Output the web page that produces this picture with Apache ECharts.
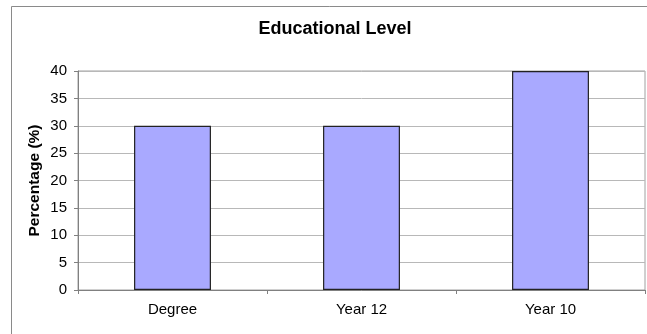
<!DOCTYPE html>
<html>
<head>
<meta charset="utf-8">
<script src="https://cdn.jsdelivr.net/npm/echarts@6/dist/echarts.min.js"></script>
<style>
  html, body { margin: 0; padding: 0; background: #fff; }
  #chart { width: 647px; height: 334px; }
</style>
</head>
<body>
<div id="chart"></div>
<script>
// Education level shares
const categories = ['Degree', 'Year 12', 'Year 10'];
const percentages = [30, 30, 40];
const yTicks = { min: 0, max: 40, interval: 5 };

const chart = echarts.init(document.getElementById('chart'), null, { renderer: 'canvas' });
const FONT = '"Liberation Sans", Arial, sans-serif';

chart.setOption({
  animation: false,
  backgroundColor: '#fff',
  title: {
    text: 'Educational Level',
    left: 330,
    textAlign: 'center',
    top: 15,
    textStyle: { fontFamily: FONT, fontSize: 18, fontWeight: 'bold', color: '#000' }
  },
  graphic: [{
    type: 'rect',
    shape: { x: 11.5, y: 6.5, width: 700, height: 400 },
    style: { fill: 'none', stroke: '#8a8a8a', lineWidth: 1 },
    silent: true
  }],
  grid: {
    left: 78, right: 2, top: 71, bottom: 44,
    show: true, borderColor: '#a0a0a0', borderWidth: 1
  },
  xAxis: {
    type: 'category',
    data: categories,
    axisLine: { lineStyle: { color: '#808080', width: 1 } },
    axisTick: { show: true, length: 4, lineStyle: { color: '#808080' } },
    axisLabel: { fontFamily: FONT, fontSize: 15, color: '#000', margin: 12 }
  },
  yAxis: {
    type: 'value',
    min: yTicks.min, max: yTicks.max, interval: yTicks.interval,
    name: 'Percentage (%)',
    nameLocation: 'middle',
    nameRotate: 90,
    nameGap: 35,
    nameMoveOverlap: false,
    nameTextStyle: { fontFamily: FONT, fontSize: 15.5, fontWeight: 'bold', color: '#000' },
    axisLine: { show: true, lineStyle: { color: '#808080', width: 1 } },
    axisTick: { show: true, length: 4, lineStyle: { color: '#808080' } },
    axisLabel: { fontFamily: FONT, fontSize: 15, color: '#000', margin: 11 },
    splitLine: { show: true, lineStyle: { color: '#b8b8b8', width: 1 } }
  },
  series: [{
    type: 'bar',
    data: percentages,
    barWidth: '40.7%',
    itemStyle: { color: '#a9a9ff', borderColor: '#222', borderWidth: 1.2 }
  }]
});
</script>
</body>
</html>
